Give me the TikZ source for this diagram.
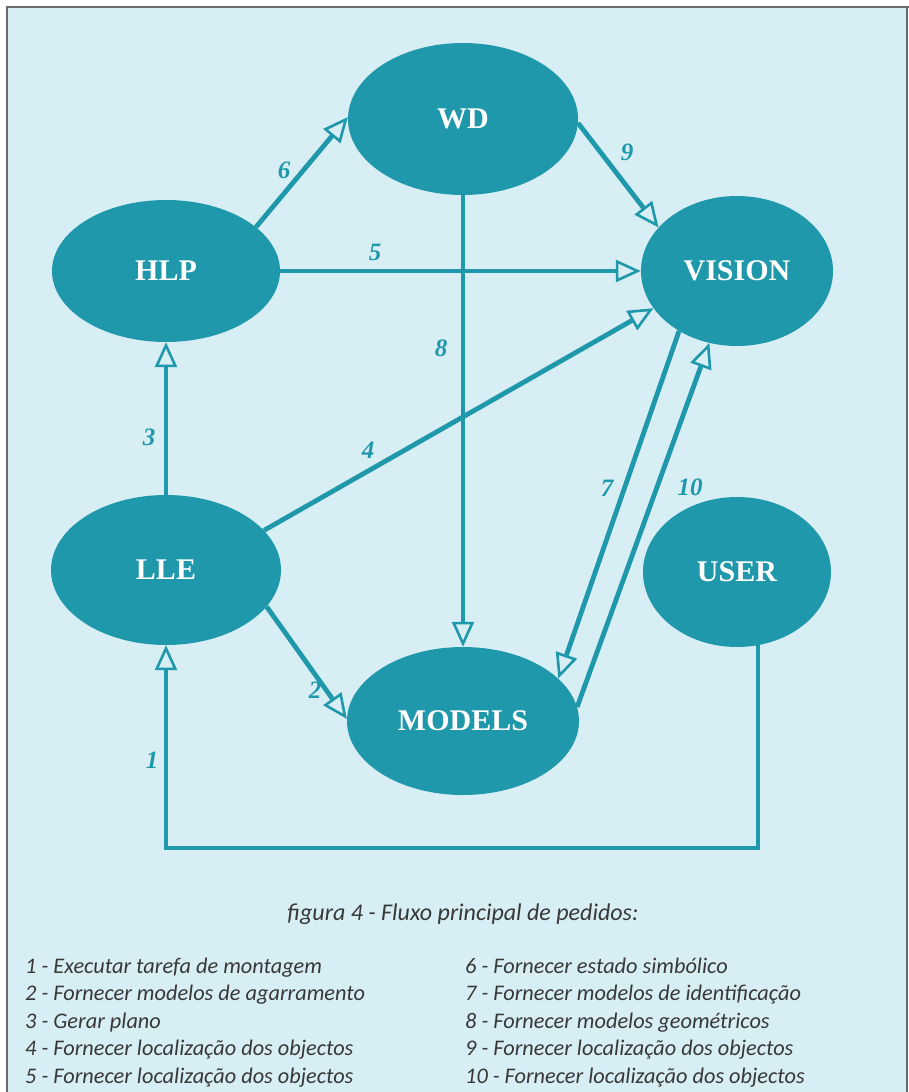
\documentclass[tikz,border=0pt]{standalone}
\usepackage{fontspec}
\setmainfont{Liberation Serif}
\newfontfamily\capfont{Carlito}
\usetikzlibrary{arrows.meta,shapes.geometric,calc}
\definecolor{tealA}{HTML}{1F98AB}
\definecolor{bgblue}{HTML}{D6EEF4}
\definecolor{txtgray}{HTML}{383838}
\definecolor{framegray}{HTML}{6A6A6A}
\pgfdeclarelayer{back}
\pgfdeclarelayer{bg}
\pgfsetlayers{back,bg,main}
\begin{document}
\begin{tikzpicture}[x=1pt,y=-1pt,
  ell/.style={ellipse, fill=tealA, text=white, inner sep=0pt,
    font=\fontsize{30}{32}\selectfont\bfseries},
  conn/.style={draw=tealA, line width=4.8pt,
    -{Triangle[open, length=25pt, width=22pt, line width=2.6pt]}},
  num/.style={text=tealA, font=\fontsize{25}{27}\selectfont\bfseries\itshape},
  capline/.style={font=\capfont\itshape\fontsize{22.3}{24}\selectfont, text=txtgray, anchor=base west, inner sep=0pt}
]
\useasboundingbox (0,0) rectangle (909,1092);
\begin{pgfonlayer}{back}
\fill[white] (0,0) rectangle (909,1092);
\fill[bgblue] (7,7) rectangle (907,1092);
\draw[framegray, line width=1.6pt] (7,1092) -- (7,7) -- (909,7);
\draw[framegray, line width=1.2pt] (907,7) -- (907,1092);
\end{pgfonlayer}

% nodes
\node[ell, minimum width=230pt, minimum height=152pt] (WD) at (463,119) {WD};
\node[ell, minimum width=228pt, minimum height=142pt] (HLP) at (166,271) {HLP};
\node[ell, minimum width=192pt, minimum height=150pt] (VISION) at (737,271) {VISION};
\node[ell, minimum width=230pt, minimum height=150pt] (LLE) at (166,570) {LLE};
\node[ell, minimum width=188pt, minimum height=150pt] (USER) at (737,572) {USER};
\node[ell, minimum width=232pt, minimum height=148pt] (MODELS) at (463,721) {MODELS};

\coordinate (c1r) at (758,848);
\coordinate (c1l) at (LLE.south |- c1r);

\begin{pgfonlayer}{bg}
\draw[conn] (c1r |- USER.center) -- (c1r) -- (c1l) -- (LLE.south);
\draw[conn] (LLE.-20) -- (MODELS.179);
\draw[conn] (LLE.north) -- (HLP.south);
\draw[conn] (LLE.22) -- (VISION.204);
\draw[conn] (HLP.east) -- (VISION.west);
\draw[conn] (HLP.26) -- (WD.179);
\draw[conn] (VISION.226) -- (MODELS.24);
\draw[conn] (WD.south) -- (MODELS.north);
\draw[conn] (WD.-2) -- (VISION.151);
\draw[conn] (MODELS.7) -- (VISION.249);
\end{pgfonlayer}

% labels
\node[num] (n1) at (152,760) {1};
\node[num] (n2) at (315,690) {2};
\node[num] (n3) at (149,437) {3};
\node[num] (n4) at (368,450) {4};
\node[num] (n5) at (375,252) {5};
\node[num] (n6) at (284,170) {6};
\node[num] (n7) at (607,488) {7};
\node[num] (n8) at (441,348) {8};
\node[num] (n9) at (627,152) {9};
\node[num] (n10) at (690,487) {10};

% caption
\node[capline, anchor=base, font=\capfont\itshape\fontsize{24}{26}\selectfont] (cap) at (463,920) {figura 4 - Fluxo principal de pedidos:};
\node[capline] (l1) at (25,973) {1 - Executar tarefa de montagem};
\node[capline] (l2) at (25,1000.5) {2 - Fornecer modelos de agarramento};
\node[capline] (l3) at (25,1028) {3 - Gerar plano};
\node[capline] (l4) at (25,1055.5) {4 - Fornecer localização dos objectos};
\node[capline] (l5) at (25,1083) {5 - Fornecer localização dos objectos};
\node[capline] (r1) at (465,973) {6 - Fornecer estado simbólico};
\node[capline] (r2) at (465,1000.5) {7 - Fornecer modelos de identificação};
\node[capline] (r3) at (465,1028) {8 - Fornecer modelos geométricos};
\node[capline] (r4) at (465,1055.5) {9 - Fornecer localização dos objectos};
\node[capline] (r5) at (465,1083) {10 - Fornecer localização dos objectos};
\end{tikzpicture}
\end{document}
